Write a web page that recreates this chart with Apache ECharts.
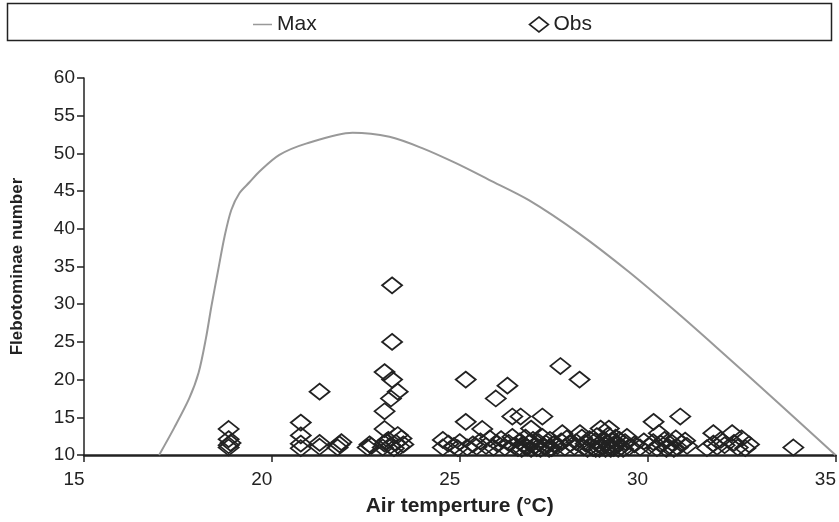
<!DOCTYPE html>
<html>
<head>
<meta charset="utf-8">
<script src="https://cdn.jsdelivr.net/npm/echarts@6/dist/echarts.min.js"></script>
<style>
html,body{margin:0;padding:0;background:#fff;}
#chart{width:839px;height:522px;}
</style>
</head>
<body>
<div id="chart"></div>
<script>
// Max curve (temperature, number)
var maxX = [17.0, 17.4, 17.8, 18.05, 18.25, 18.39, 18.57, 18.74, 18.92, 19.14, 19.41, 19.67, 20.2, 20.91, 22.15, 23.13, 24.0, 24.9, 25.78, 26.84, 28.17, 29.5, 30.83, 31.83, 33.48, 35.0];
var maxY = [10.0, 13.6, 17.5, 20.9, 25.6, 29.7, 34.5, 38.95, 42.5, 44.75, 46.2, 47.6, 49.8, 51.3, 52.75, 52.2, 50.7, 48.7, 46.5, 43.8, 39.4, 34.3, 28.7, 24.3, 16.9, 10.0];

// Observations
var obsX = [
  18.85, 18.85, 18.9, 18.85, 18.85,
  20.77, 20.77, 20.77, 20.77,
  21.27, 21.27, 21.27,
  21.75, 21.8, 21.85,
  22.55, 22.6, 22.65,
  23.0, 23.2, 23.35, 23.17, 23.0, 23.0, 23.35, 23.2, 23.2,
  22.95, 23.0, 23.1, 23.15, 23.25, 23.3, 23.4, 23.45, 23.5, 23.05,
  24.55, 24.55, 24.7, 24.85, 24.95, 25.0,
  25.16, 25.16, 25.6, 25.96,
  25.2, 25.35, 25.45, 25.55, 25.7, 25.8, 25.9, 26.0,
  26.27, 26.4, 26.62, 27.2, 26.9,
  26.1, 26.2, 26.3, 26.4, 26.45, 26.55, 26.6, 26.7, 26.75, 26.8, 26.85, 26.95, 27.0, 27.05, 27.1, 27.2, 27.25, 27.3, 27.4, 27.45, 27.5,
  26.65, 26.78, 26.9, 27.02, 27.15, 27.28, 27.38,
  27.68, 27.73, 27.6, 27.7, 27.8, 27.85, 27.95,
  28.19, 28.2, 28.75, 28.97,
  28.05, 28.1, 28.25, 28.3, 28.35, 28.45, 28.5, 28.55, 28.6, 28.65, 28.7, 28.8, 28.85, 28.9, 28.95, 29.0, 29.05, 29.1, 29.15, 29.2, 29.25, 29.3, 29.4, 29.45, 29.5,
  28.4, 28.62, 28.78, 28.88, 29.02, 29.12, 29.22, 29.35, 28.72, 28.98,
  29.65, 29.8, 29.9,
  30.16, 30.3, 30.87,
  30.05, 30.15, 30.25, 30.35, 30.45, 30.55, 30.65, 30.75, 30.8, 30.9, 31.0, 31.05,
  30.5, 30.7,
  31.58, 31.75, 31.75, 31.85, 31.95, 32.05, 32.25, 32.3, 32.4, 32.5, 32.6, 32.7,
  33.88
];
var obsY = [
  11.0, 11.3, 11.6, 12.1, 13.45,
  10.9, 11.5, 12.6, 14.3,
  11.1, 11.6, 18.4,
  11.0, 11.4, 11.7,
  11.0, 11.4, 11.2,
  21.0, 20.0, 18.4, 17.5, 15.8, 13.45, 12.65, 32.5, 25.0,
  11.0, 11.5, 12.0, 11.2, 10.9, 11.6, 11.1, 12.2, 11.4, 11.8,
  11.0, 12.0, 11.5, 11.2, 10.9, 11.7,
  20.0, 14.4, 13.45, 17.5,
  11.0, 11.4, 11.1, 11.8, 11.2, 12.2, 11.0, 11.5,
  19.2, 15.1, 15.1, 15.1, 13.5,
  12.1, 11.0, 11.6, 12.4, 11.2, 10.9, 11.8, 11.3, 12.3, 11.0, 11.6, 12.0, 11.2, 10.9, 11.7, 12.4, 11.1, 11.5, 12.0, 10.9, 11.4,
  10.8, 11.1, 10.8, 11.3, 10.8, 11.0, 10.8,
  21.8, 12.9, 11.2, 11.8, 11.0, 12.2, 11.5,
  20.0, 12.9, 13.5, 13.5,
  11.1, 11.7, 12.3, 11.0, 11.5, 12.1, 11.2, 10.9, 11.8, 12.5, 11.4, 11.0, 12.0, 11.6, 12.6, 11.2, 11.9, 10.9, 12.3, 11.5, 12.0, 11.1, 11.7, 12.4, 11.0,
  10.8, 10.8, 11.2, 10.8, 10.8, 11.3, 10.8, 10.8, 10.8, 11.0,
  11.4, 11.0, 11.8,
  14.4, 12.9, 15.1,
  11.2, 11.7, 10.9, 11.5, 12.0, 11.1, 11.6, 12.2, 11.0, 11.5, 11.9, 11.2,
  10.8, 10.8,
  10.9, 12.9, 11.5, 11.1, 12.0, 11.3, 12.9, 11.6, 11.0, 12.2, 10.9, 11.4,
  11.0
];

var xTicks = [15, 20, 25, 30, 35];
var yTicks = [10, 15, 20, 25, 30, 35, 40, 45, 50, 55, 60];

var maxData = maxX.map(function (x, i) { return [x, maxY[i]]; });
var obsData = obsX.map(function (x, i) { return [x, obsY[i]]; });

var FONT = '"Liberation Sans", Arial, sans-serif';
var chart = echarts.init(document.getElementById('chart'));
chart.setOption({
  animation: false,
  backgroundColor: '#fff',
  graphic: [{
    type: 'rect',
    shape: { x: 7.5, y: 3.5, width: 824, height: 37 },
    style: { fill: 'none', stroke: '#222', lineWidth: 1.5 },
    z: 0
  }],
  legend: {
    left: 253,
    top: 14,
    padding: 0,
    itemGap: 212,
    itemWidth: 19,
    itemHeight: 15,
    textStyle: { fontFamily: FONT, fontSize: 21, color: '#222' },
    data: [
      { name: 'Max', icon: 'path://M0,0L0.01,0L0.01,0.01L0,0.01Z M0,6.8L19,6.8L19,8.3L0,8.3Z M0,15L0.01,15L0.01,15.01L0,15.01Z', itemStyle: { color: '#999' } },
      { name: 'Obs', icon: 'diamond', itemStyle: { color: 'rgba(0,0,0,0)', borderColor: '#222', borderWidth: 1.6 } }
    ]
  },
  grid: { left: 84, right: 2, top: 78, bottom: 67, containLabel: false },
  xAxis: {
    type: 'value',
    min: xTicks[0], max: xTicks[xTicks.length - 1], interval: 5,
    name: 'Air temperture (°C)',
    nameLocation: 'middle',
    nameGap: 41,
    nameTextStyle: { fontFamily: FONT, fontSize: 21, fontWeight: 'bold', color: '#222' },
    axisLine: { lineStyle: { color: '#222', width: 2.5 } },
    axisTick: { show: true, inside: false, length: 7, lineStyle: { color: '#222', width: 1.5 } },
    axisLabel: { fontFamily: FONT, fontSize: 19, color: '#222', margin: 15, padding: [0, 20, 0, 0] },
    splitLine: { show: false }
  },
  yAxis: {
    type: 'value',
    min: yTicks[0], max: yTicks[yTicks.length - 1], interval: 5,
    name: 'Flebotominae number',
    nameLocation: 'middle',
    nameGap: 58,
    nameTextStyle: { fontFamily: FONT, fontSize: 17, fontWeight: 'bold', color: '#222' },
    axisLine: { show: true, lineStyle: { color: '#222', width: 1.5 } },
    axisTick: { show: true, inside: false, length: 7, lineStyle: { color: '#222', width: 1.5 } },
    axisLabel: { fontFamily: FONT, fontSize: 19, color: '#222', margin: 9 },
    splitLine: { show: false }
  },
  series: [
    {
      name: 'Max',
      type: 'line',
      data: maxData,
      smooth: 0.3,
      symbol: 'none',
      showSymbol: false,
      lineStyle: { color: '#999', width: 2 },
      itemStyle: { color: '#999' },
      z: 2
    },
    {
      name: 'Obs',
      type: 'scatter',
      data: obsData,
      symbol: 'diamond',
      symbolSize: [20, 16],
      itemStyle: { color: 'rgba(0,0,0,0)', borderColor: '#222', borderWidth: 1.8, opacity: 1 },
      z: 3
    }
  ]
});
</script>
</body>
</html>
